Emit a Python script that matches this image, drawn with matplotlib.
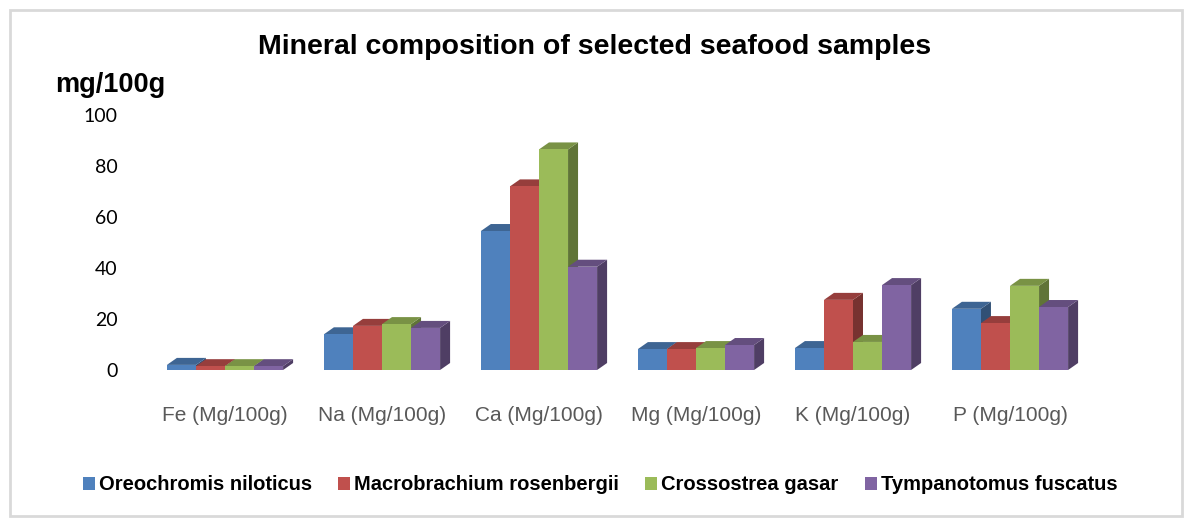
#!/usr/bin/env python3

import matplotlib.pyplot as plt
import numpy as np
from matplotlib.patches import Polygon, Rectangle
from matplotlib.colors import to_rgb

# data (mg/100g)
minerals = ["Fe (Mg/100g)", "Na (Mg/100g)", "Ca (Mg/100g)",
            "Mg (Mg/100g)", "K (Mg/100g)", "P (Mg/100g)"]
species = ["Oreochromis niloticus", "Macrobrachium rosenbergii",
           "Crossostrea gasar", "Tympanotomus fuscatus"]
oreochromis = [2.0, 14.0, 54.5, 8.2, 8.6, 24.0]
macrobrachium = [1.5, 17.3, 72.0, 8.2, 27.5, 18.4]
crossostrea = [1.5, 18.0, 86.5, 8.6, 11.0, 33.0]
tympanotomus = [1.5, 16.5, 40.5, 9.8, 33.3, 24.7]
yticks = [0, 20, 40, 60, 80, 100]

colors = ["#4F81BD", "#C0504D", "#9BBB59", "#8064A2"]

W, H = 1185, 520
fig = plt.figure(figsize=(W / 100, H / 100), dpi=100)
fig.patch.set_facecolor("white")

# chart border
fig.add_artist(Rectangle((10 / W, 4 / H), 1172 / W, 506 / H,
                         transform=fig.transFigure, fill=False,
                         edgecolor="#D9D9D9", linewidth=2))

ax = fig.add_axes([146.5 / W, 150 / H, 942 / W, 255 / H])
ax.set_xlim(-0.5, 5.5)
ax.set_ylim(0, 100)

series = [oreochromis, macrobrachium, crossostrea, tympanotomus]
x = np.arange(len(minerals))
bw = 0.185
dx = 10 / 157       # depth offset in data units (x)
dy = 7 / 2.55       # depth offset in data units (y)


def shade(c, f):
    r, g, b = to_rgb(c)
    return (r * f, g * f, b * f)


for k, (vals, col) in enumerate(zip(series, colors)):
    xs = x - 2 * bw + k * bw
    for xi, v in zip(xs, vals):
        # side face
        side = Polygon([(xi + bw, 0), (xi + bw + dx, dy),
                        (xi + bw + dx, v + dy), (xi + bw, v)],
                       closed=True, facecolor=shade(col, 0.62),
                       edgecolor="none", zorder=2 + k)
        top = Polygon([(xi, v), (xi + dx, v + dy),
                       (xi + bw + dx, v + dy), (xi + bw, v)],
                      closed=True, facecolor=shade(col, 0.78),
                      edgecolor="none", zorder=2 + k)
        ax.add_patch(side)
        ax.add_patch(top)
    ax.bar(xs, vals, width=bw, align="edge", color=col, zorder=2 + k,
           label=species[k])

for s in ax.spines.values():
    s.set_visible(False)
ax.set_yticks(yticks)
ax.set_yticklabels([str(t) for t in yticks], fontsize=14,
                   family="Lato", color="#000000")
ax.tick_params(axis="y", length=0, pad=21)
ax.set_xticks(x)
ax.set_xticklabels(minerals, fontsize=15, family="Liberation Sans",
                   color="#595959")
ax.tick_params(axis="x", length=0, pad=26)

fig.text(595 / W, 1 - 47 / H, "Mineral composition of selected seafood samples",
         ha="center", va="center", fontsize=20.5, fontweight="bold",
         family="Liberation Sans")
fig.text(55 / W, 1 - 85 / H, "mg/100g", ha="left", va="center",
         fontsize=19.5, fontweight="bold", family="Liberation Sans")

fig.legend(loc="center", bbox_to_anchor=(600 / W, 35 / H), ncol=4,
           frameon=False, handlelength=0.6, handleheight=0.6,
           handletextpad=0.2, columnspacing=1.3,
           prop={"family": "Liberation Sans", "weight": "bold",
                 "size": 14.5})

fig.savefig("out.png", dpi=100)
